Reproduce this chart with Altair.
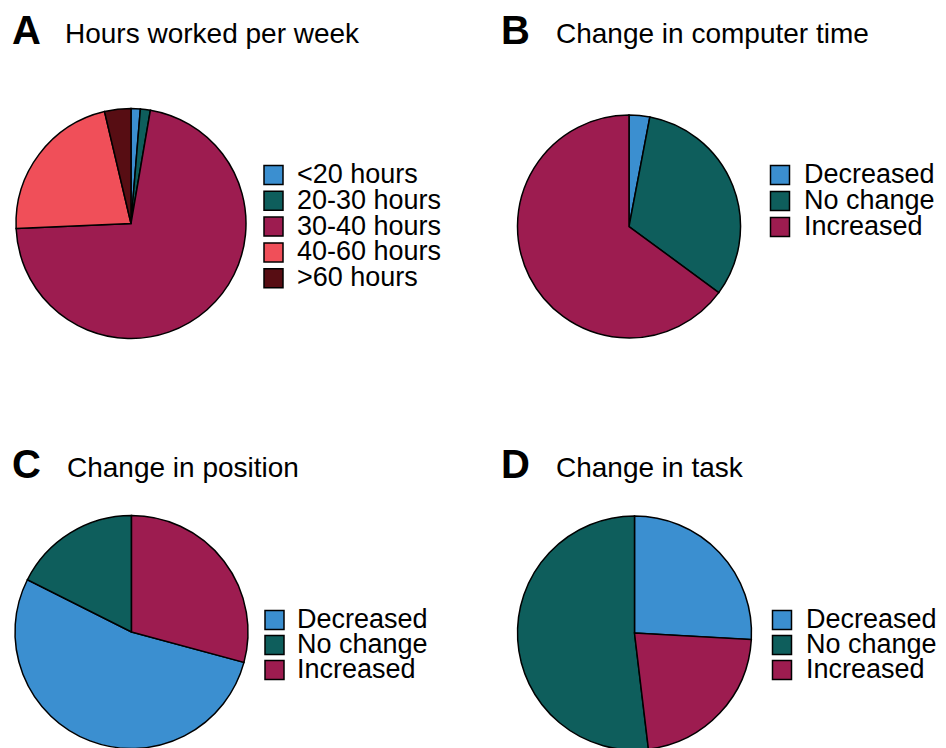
import altair as alt
import pandas as pd

FONT = "Liberation Sans"

hours_cats = ["<20 hours", "20-30 hours", "30-40 hours", "40-60 hours", ">60 hours"]
hours_pct = [1.3, 1.4, 71.6, 22.0, 3.7]
hours_colors = ["#3b8fd0", "#0e5e5c", "#9d1c50", "#f04f59", "#570d13"]

change_cats = ["Decreased", "No change", "Increased"]
change_colors = ["#3b8fd0", "#0e5e5c", "#9d1c50"]

computer_pct = [3.0, 32.1, 64.9]
computer_order = [0, 1, 2]

position_pct = [53.2, 17.6, 29.2]
position_order = [1, 2, 0]

task_pct = [25.9, 51.9, 22.2]
task_order = [0, 2, 1]

WA, WB, H1, H2, GAP = 468, 457, 400, 340, 5


def panel(letter, title, cats, pcts, order, colors, w, h, ox, oy,
          cx, cy, r, sx, lx, ly0, lstep, tx_letter, tx_title, ty):
    # all positions given in page pixels; convert to panel-relative
    df = pd.DataFrame({"cat": cats, "pct": pcts, "ord": order})
    cscale = alt.Scale(domain=cats, range=colors)
    n = len(cats)
    yscale = alt.Scale(type="point", domain=cats, padding=0,
                       range=[ly0 - oy, ly0 - oy + lstep * (n - 1)])
    pie = alt.Chart(df).mark_arc(radius=r, stroke="black", strokeWidth=1.5).encode(
        theta=alt.Theta("pct:Q", stack=True),
        order=alt.Order("ord:Q"),
        color=alt.Color("cat:N", scale=cscale, legend=None),
        x=alt.value(cx - ox),
        y=alt.value(cy - oy),
    )
    squares = alt.Chart(df).mark_square(
        size=361, stroke="black", strokeWidth=1.5, opacity=1
    ).encode(
        x=alt.value(sx - ox),
        y=alt.Y("cat:N", scale=yscale, axis=None),
        color=alt.Color("cat:N", scale=cscale, legend=None),
    )
    labels = alt.Chart(df).mark_text(
        font=FONT, fontSize=27, align="left", baseline="middle", color="black"
    ).encode(
        x=alt.value(lx - ox),
        y=alt.Y("cat:N", scale=yscale, axis=None),
        text="cat:N",
    )
    t1 = alt.Chart(pd.DataFrame({"t": [letter]})).mark_text(
        font=FONT, fontSize=40, fontWeight="bold", align="left",
        baseline="alphabetic", color="black"
    ).encode(text="t:N", x=alt.value(tx_letter - ox), y=alt.value(ty - oy + 1))
    t2 = alt.Chart(pd.DataFrame({"t": [title]})).mark_text(
        font=FONT, fontSize=28, align="left", baseline="alphabetic", color="black"
    ).encode(text="t:N", x=alt.value(tx_title - ox), y=alt.value(ty - oy))
    return alt.layer(pie, squares, labels, t1, t2).properties(width=w, height=h)


OXA, OXB = 8, 8 + WA + GAP
OY1, OY2 = 8, 8 + H1 + GAP

pA = panel("A", "Hours worked per week", hours_cats, hours_pct, [0, 1, 2, 3, 4],
           hours_colors, WA, H1, OXA, OY1, 131, 223.5, 115,
           273.5, 297, 175, 25.8, 12, 65, 43)
pB = panel("B", "Change in computer time", change_cats, computer_pct, computer_order,
           change_colors, WB, H1, OXB, OY1, 629, 226.5, 111.5,
           780, 804, 175, 26, 501, 556, 43)
pC = panel("C", "Change in position", change_cats, position_pct, position_order,
           change_colors, WA, H2, OXA, OY2, 131.5, 632, 116.5,
           274.5, 297, 620, 25, 12, 67, 477)
pD = panel("D", "Change in task", change_cats, task_pct, task_order,
           change_colors, WB, H2, OXB, OY2, 634.5, 633, 117,
           782, 806, 620, 25, 501, 556, 477)

row1 = alt.hconcat(pA, pB, spacing=GAP).resolve_scale(color="independent", y="independent")
row2 = alt.hconcat(pC, pD, spacing=GAP).resolve_scale(color="independent", y="independent")

chart = alt.vconcat(row1, row2, spacing=GAP).resolve_scale(
    color="independent", y="independent"
).properties(padding=0, background="white").configure_view(strokeWidth=0)

chart.save("out.html", embed_options={"renderer": "svg", "actions": False})
